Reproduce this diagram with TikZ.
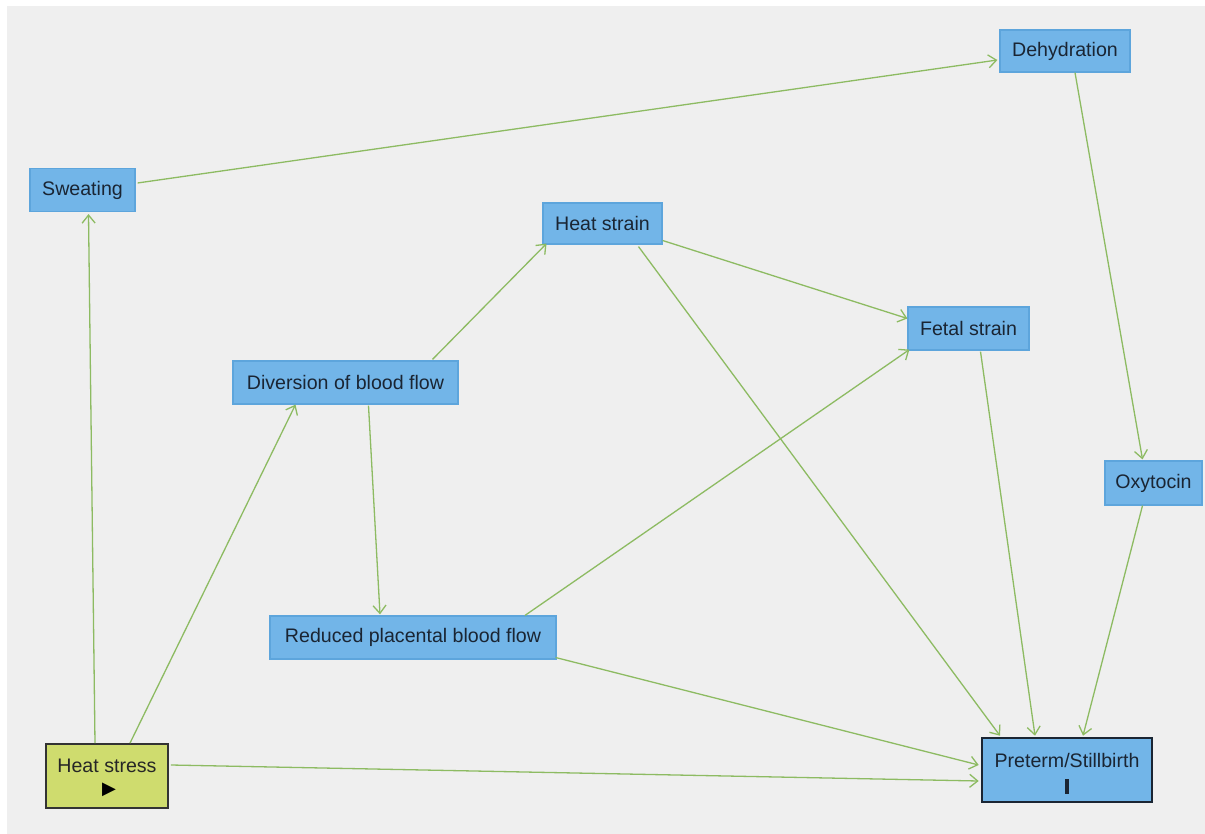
\documentclass[tikz,border=0pt]{standalone}
\usepackage{fontspec}
\setmainfont{Liberation Sans}
\newfontfamily\symfont{DejaVu Sans}
\usetikzlibrary{arrows.meta,calc}
\definecolor{bgc}{HTML}{EFEFEF}
\definecolor{boxfill}{HTML}{72B5E8}
\definecolor{boxline}{HTML}{5DA5DC}
\definecolor{hsfill}{HTML}{CFDC6E}
\definecolor{edgec}{HTML}{8DBB62}
\definecolor{txt}{HTML}{1A2533}
\tikzset{
  bx/.style={draw=boxline, line width=0.6pt, fill=boxfill, text=txt, inner sep=0pt, align=center, font=\fontsize{9.8}{12}\selectfont},
  edge/.style={draw=edgec, line width=0.65pt, -{Straight Barb[length=4pt,width=6.5pt,line width=0.65pt]}},
}
\begin{document}
\begin{tikzpicture}[x=0.5pt,y=-0.5pt]
\useasboundingbox (0,0) rectangle (1205,834);
\fill[white] (0,0) rectangle (1205,834);
\fill[bgc] (7,6) rectangle (1206,835);

\node[bx, minimum width=65pt, minimum height=21pt] (dh) at (1065,51) {Dehydration};
\node[bx, minimum width=52.5pt, minimum height=21.5pt] (sw) at (82.5,190) {Sweating};
\node[bx, minimum width=59.5pt, minimum height=20.5pt] (hs) at (602.5,223.5) {Heat strain};
\node[bx, minimum width=60.5pt, minimum height=21.5pt] (fs) at (968.5,328.5) {Fetal strain};
\node[bx, minimum width=112.5pt, minimum height=21.5pt] (dv) at (345.5,382.5) {Diversion of blood flow};
\node[bx, minimum width=48.5pt, minimum height=22pt] (ox) at (1153.5,483) {Oxytocin};
\node[bx, minimum width=143pt, minimum height=21.5pt] (rp) at (413,637.5) {Reduced placental blood flow};
\node[draw=black!80, line width=0.9pt, fill=hsfill, text=black!85, inner sep=0pt, minimum width=61pt, minimum height=32pt] (hst) at (107,776) {};
\node[font=\fontsize{9.8}{12}\selectfont, text=black!85] (hstt) at (107,766) {Heat stress};
\node[font=\symfont\fontsize{9}{10}\selectfont, text=black] (hstr) at (109,790) {▶};
\node[draw=txt, line width=1.3pt, fill=boxfill, inner sep=0pt, minimum width=85pt, minimum height=32pt] (pt) at (1067,770) {};
\node[font=\fontsize{9.8}{12}\selectfont, text=txt] (ptt) at (1067,760) {Preterm/Stillbirth};
\node[fill=txt, inner sep=0pt, minimum width=2.4pt, minimum height=7.5pt] (ptb) at (1067,786) {};

\draw[edge] ($(sw.east)+(2,-7)$) -- ($(dh.west)+(-2,9)$);
\draw[edge] ($(hst.north)+(-12,0)$) -- ($(sw.south)+(6,2)$);
\draw[edge] ($(hst.north)+(23,0)$) -- ($(dv.south)+(-50,0)$);
\draw[edge] ($(hst.east)+(2,-11)$) -- ($(pt.west)+(-2,11)$);
\draw[edge] ($(dv.north)+(87,-1)$) -- ($(hs.south)+(-56,-1)$);
\draw[edge] ($(dv.south)+(23,1)$) -- ($(rp.north)+(-33,-1)$);
\draw[edge] ($(hs.east)+(0,17)$) -- ($(fs.west)+(0,-10)$);
\draw[edge] ($(hs.south)+(36,2)$) -- ($(pt.north)+(-67,-1)$);
\draw[edge] ($(rp.north)+(112,0)$) -- ($(fs.south west)+(2,-1)$);
\draw[edge] ($(rp.east)+(-1,20)$) -- ($(pt.west)+(-2,-5)$);
\draw[edge] ($(fs.south)+(12,1)$) -- ($(pt.north)+(-32,-1)$);
\draw[edge] ($(dh.south)+(10,0)$) -- ($(ox.north)+(-11,-1)$);
\draw[edge] ($(ox.south)+(-11,0)$) -- ($(pt.north)+(16,-1)$);
\end{tikzpicture}
\end{document}
